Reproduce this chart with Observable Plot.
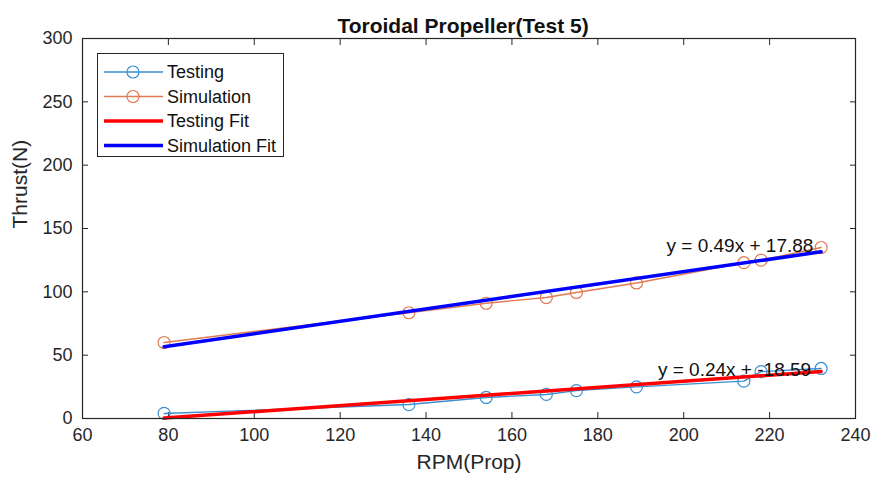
<!DOCTYPE html>
<html>
<head>
<meta charset="utf-8">
<script src="https://cdn.jsdelivr.net/npm/d3@7"></script>
<script src="https://cdn.jsdelivr.net/npm/@observablehq/plot@0.6"></script>
<style>
  html, body { margin: 0; padding: 0; background: #fff; }
  #wrap { position: relative; width: 872px; height: 487px; font-family: "Liberation Sans", Arial, sans-serif; }
  #legend { position: absolute; left: 97px; top: 53px; width: 187px; height: 104px; border: 1px solid #262626; background: #fff; box-sizing: border-box; }
</style>
</head>
<body>
<div id="wrap"><div id="chart"></div><div id="legend"></div></div>
<script>
// ---- data ----
const rpm        = [79, 136, 154, 168, 175, 189, 214, 218, 232];
const testing    = [4, 11, 16.6, 19, 22, 25, 29.5, 37, 39.5];
const simulation = [60, 83.5, 91, 95.5, 99.5, 107, 123, 125, 135];

const fitX        = [79, 232];
const testingFitY = [0.4, 37.1];
const simFitY     = [56.6, 131.6];

const eqText = ["y = 0.49x + 17.88", "y = 0.24x + -18.59"];
const eqX    = [196, 194];
const eqY    = [136, 38];

const xTicks = [60, 80, 100, 120, 140, 160, 180, 200, 220, 240];
const yTicks = [0, 50, 100, 150, 200, 250, 300];

const title  = "Toroidal Propeller(Test 5)";
const xLabel = "RPM(Prop)";
const yLabel = "Thrust(N)";

const seriesNames  = ["Testing", "Simulation", "Testing Fit", "Simulation Fit"];
const seriesColors = ["#3a8fd0", "#e07b53", "#ff0000", "#0000ff"];

// ---- tables ----
const testRows = rpm.map((x, i) => ({x, y: testing[i]}));
const simRows  = rpm.map((x, i) => ({x, y: simulation[i]}));
const tFitRows = fitX.map((x, i) => ({x, y: testingFitY[i]}));
const sFitRows = fitX.map((x, i) => ({x, y: simFitY[i]}));
const eqRows   = eqText.map((t, i) => ({t, x: eqX[i], y: eqY[i]}));

const ink = "#262626";
const font = "'Liberation Sans', Arial, sans-serif";

const chart = Plot.plot({
  width: 872, height: 487,
  marginLeft: 82, marginRight: 17, marginTop: 38, marginBottom: 69,
  x: {domain: [60, 240]},
  y: {domain: [0, 300]},
  style: {fontFamily: font, fontSize: "18px", color: ink, background: "#fff", overflow: "visible"},
  marks: [
    Plot.axisX(xTicks, {tickSize: -6, tickPadding: 16, label: null, stroke: ink, fill: ink}),
    Plot.axisX(xTicks, {anchor: "top", tickSize: -6, tickFormat: () => "", label: null, stroke: ink}),
    Plot.axisY(yTicks, {tickSize: -6, tickPadding: 16, label: null, stroke: ink, fill: ink}),
    Plot.axisY(yTicks, {anchor: "right", tickSize: -6, tickFormat: () => "", label: null, stroke: ink}),
    Plot.line(testRows, {x: "x", y: "y", stroke: seriesColors[0], strokeWidth: 1.4}),
    Plot.dot(testRows, {x: "x", y: "y", r: 6, stroke: seriesColors[0], strokeWidth: 1.2}),
    Plot.line(simRows, {x: "x", y: "y", stroke: seriesColors[1], strokeWidth: 1.4}),
    Plot.dot(simRows, {x: "x", y: "y", r: 6, stroke: seriesColors[1], strokeWidth: 1.2}),
    Plot.line(tFitRows, {x: "x", y: "y", stroke: seriesColors[2], strokeWidth: 3.5}),
    Plot.line(sFitRows, {x: "x", y: "y", stroke: seriesColors[3], strokeWidth: 3.5}),
    Plot.text(eqRows, {x: "x", y: "y", text: "t", textAnchor: "start", fontSize: 19, fill: "#111"}),
    Plot.frame({stroke: ink, strokeWidth: 1.2}),
    Plot.text([title], {frameAnchor: "top", dy: -20, dx: -6, fontSize: 21, fontWeight: "bold", fill: "#111"}),
    Plot.text([xLabel], {frameAnchor: "bottom", dy: 50, fontSize: 21, fill: ink}),
    Plot.text([yLabel], {frameAnchor: "left", dx: -62, rotate: -90, fontSize: 21, fill: ink})
  ]
});
document.getElementById("chart").appendChild(chart);

// ---- legend ----
const lg = d3.select("#legend").append("svg").attr("width", 185).attr("height", 102)
  .style("font-family", font).style("font-size", "18px");
seriesNames.forEach((name, i) => {
  const cy = 18 + i * 24.5;
  const g = lg.append("g").attr("transform", `translate(0,${cy})`);
  const isFit = i >= 2;
  g.append("line").attr("x1", 6).attr("x2", 65).attr("y1", 0).attr("y2", 0)
    .attr("stroke", seriesColors[i]).attr("stroke-width", isFit ? 3.5 : 1.3);
  if (!isFit) g.append("circle").attr("cx", 35).attr("cy", 0).attr("r", 6)
    .attr("fill", "none").attr("stroke", seriesColors[i]).attr("stroke-width", 1.2);
  g.append("text").attr("x", 69).attr("y", 0).attr("dy", "0.35em").attr("fill", "#111").text(name);
});
</script>
</body>
</html>
